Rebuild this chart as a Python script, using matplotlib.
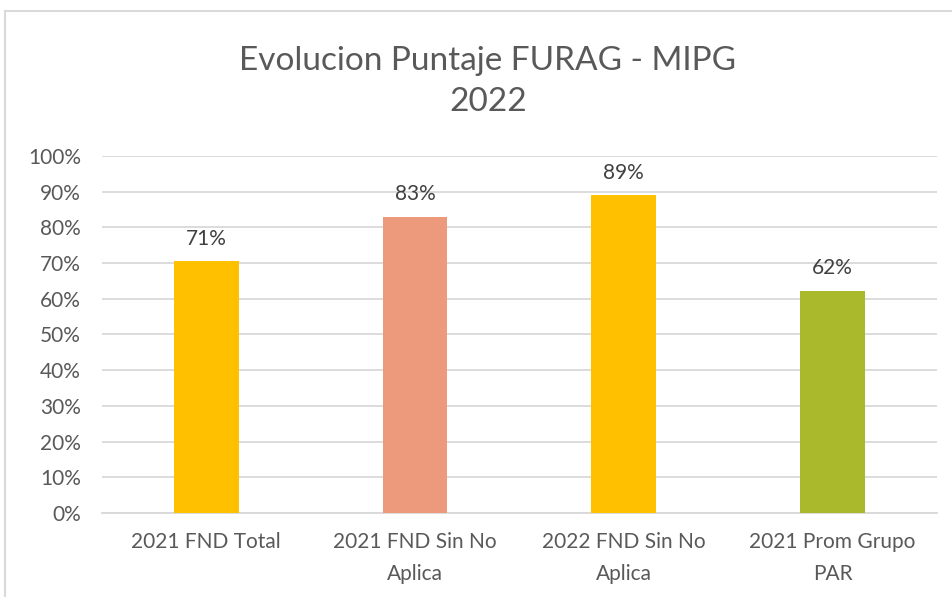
import matplotlib.pyplot as plt
from matplotlib.patches import Rectangle
from matplotlib.ticker import PercentFormatter

categories = ["2021 FND Total", "2021 FND Sin No\nAplica", "2022 FND Sin No\nAplica", "2021 Prom Grupo\nPAR"]
values = [0.705, 0.83, 0.89, 0.622]
labels = ["71%", "83%", "89%", "62%"]
colors = ["#FFC000", "#ED997C", "#FFC000", "#A9B92B"]

plt.rcParams["font.family"] = ["Lato", "DejaVu Sans"]
txt = "#595959"

fig = plt.figure(figsize=(9.53, 5.97), dpi=100)
ax = fig.add_axes([0.107, 0.1407, 0.876, 0.598])

x = range(len(categories))
ax.bar(x, values, width=0.31, color=colors, zorder=3)
for i, v in enumerate(values):
    ax.annotate(labels[i], (i, v), xytext=(0, 9), textcoords="offset points",
                ha="center", va="bottom", fontsize=15, color="#404040")

ax.set_ylim(0, 1)
ax.set_xlim(-0.5, len(categories) - 0.5)
ax.set_yticks([i / 10 for i in range(11)])
ax.yaxis.set_major_formatter(PercentFormatter(1.0, decimals=0))
ax.set_xticks(list(x))
ax.set_xticklabels(categories, fontsize=15, color=txt, linespacing=1.7)
ax.tick_params(axis="y", labelsize=15, labelcolor=txt, length=0, pad=15)
ax.tick_params(axis="x", length=0, pad=14)
ax.grid(axis="y", color="#D9D9D9", linewidth=1.3, zorder=0)
for s in ["top", "right", "left"]:
    ax.spines[s].set_visible(False)
ax.spines["bottom"].set_color("#D9D9D9")
ax.spines["bottom"].set_linewidth(1.3)

fig.text(0.512, 0.863, "Evolucion Puntaje FURAG - MIPG\n2022", ha="center", va="center",
         fontsize=24, color=txt, linespacing=1.45)

fig.patches.append(Rectangle((5 / 953, -0.1), 1.2, 1 - 11 / 597 + 0.1, transform=fig.transFigure,
                             fill=False, edgecolor="#D9D9D9", linewidth=1.5))

fig.savefig("out.png", dpi=100)
